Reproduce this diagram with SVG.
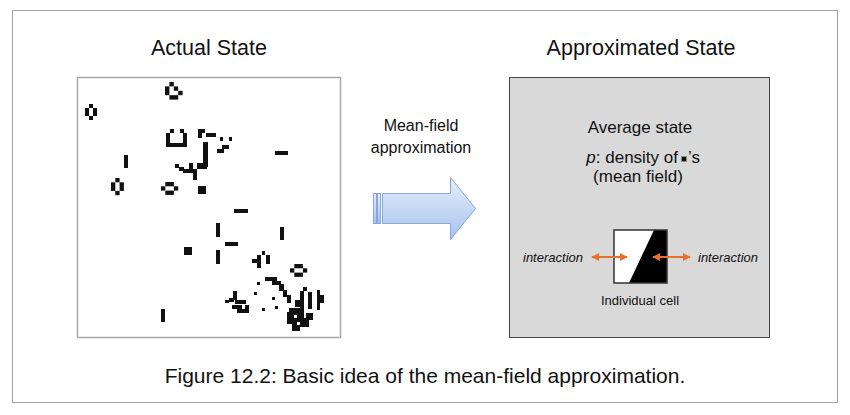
<svg xmlns="http://www.w3.org/2000/svg" width="850" height="415" viewBox="0 0 850 415">
<style>
text{font-family:"Liberation Sans",Arial,sans-serif;fill:#111}
.title{font-size:21.5px;text-anchor:middle}
.lbl{font-size:16px;text-anchor:middle}
.big{font-size:17px}
.it{font-size:13px;font-style:italic;text-anchor:middle}
.c rect{fill:#111}
.hole{fill:#fff}
</style>
<defs>
<linearGradient id="ag" x1="0" y1="0" x2="0" y2="1">
<stop offset="0" stop-color="#e6eefb"/>
<stop offset="1" stop-color="#a7c2ec"/>
</linearGradient>
<marker id="oh" viewBox="0 0 10 10" refX="9" refY="5" markerWidth="4" markerHeight="4" orient="auto-start-reverse">
<path d="M0,0 L10,5 L0,10 Z" fill="#e8702a"/>
</marker>
</defs>
<rect x="0" y="0" width="850" height="415" fill="#fff"/>
<rect x="12.5" y="10.5" width="825" height="392" fill="none" stroke="#a0a0a0" stroke-width="1"/>

<g id="actual-state">
<text class="title" x="209" y="55">Actual State</text>
<rect x="77.5" y="77.5" width="263" height="260" fill="#fff" stroke="#a8a8a8" stroke-width="1.5"/>
<g class="c">
<g transform="translate(165,82) scale(4.4)"><rect x="1" y="0" width="1" height="1"/><rect x="0" y="1" width="1" height="2"/><rect x="2" y="1" width="1" height="1"/><rect x="3" y="2" width="1" height="1"/><rect x="1" y="3" width="2" height="1"/></g>
<g transform="translate(85,104) scale(4)"><rect x="1" y="0" width="1" height="1"/><rect x="0" y="1" width="1" height="2"/><rect x="2" y="1" width="1" height="2"/><rect x="1" y="3" width="1" height="1"/></g>
<rect x="124" y="155" width="4" height="13"/>
<g transform="translate(111,178) scale(4.3)"><rect x="1" y="0" width="1" height="1"/><rect x="0" y="1" width="1" height="2"/><rect x="2" y="1" width="1" height="2"/><rect x="1" y="3" width="1" height="1"/></g>
<g transform="translate(161,182) scale(4.3)"><rect x="1" y="0" width="2" height="1"/><rect x="0" y="1" width="1" height="1"/><rect x="3" y="1" width="1" height="1"/><rect x="1" y="2" width="2" height="1"/></g>
<rect x="198" y="186" width="8" height="8"/>
<rect x="170" y="129" width="4" height="4"/><rect x="180" y="129" width="4" height="4"/>
<rect x="166" y="133" width="4" height="10"/><rect x="183" y="133" width="4" height="10"/>
<rect x="166" y="143" width="21" height="4"/>
<rect x="198" y="129" width="7" height="4"/><rect x="198" y="129" width="4" height="9"/>
<rect x="206" y="133" width="10" height="4"/>
<rect x="220" y="137" width="3" height="4"/><rect x="229" y="137" width="3" height="4"/>
<rect x="222" y="145" width="7" height="4"/><rect x="217" y="149" width="7" height="4"/>
<rect x="203" y="142" width="5" height="25"/>
<rect x="197" y="163" width="10" height="6"/>
<rect x="175" y="164" width="4" height="4"/>
<rect x="179" y="167" width="5" height="4"/>
<rect x="183" y="169" width="14" height="4"/>
<rect x="193" y="172" width="4" height="8"/>
<rect x="189" y="163" width="4" height="6"/>
<rect x="275" y="151" width="13" height="4"/>
<rect x="184" y="247" width="8" height="8"/>
<rect x="161" y="309" width="4" height="13"/>
<rect x="234" y="209" width="14" height="4"/>
<rect x="216" y="223" width="4" height="14"/>
<rect x="280" y="227" width="4" height="13"/>
<rect x="225" y="242" width="13" height="4"/>
<rect x="216" y="250" width="4" height="14"/>
<rect x="262" y="251" width="3" height="4"/>
<rect x="257" y="255" width="4" height="13"/>
<rect x="252" y="259" width="5" height="4"/>
<rect x="266" y="255" width="4" height="9"/>
<g transform="translate(290,264) scale(4.3)"><rect x="1" y="0" width="2" height="1"/><rect x="0" y="1" width="1" height="1"/><rect x="3" y="1" width="1" height="1"/><rect x="1" y="2" width="2" height="1"/></g>
<rect x="257" y="282" width="3" height="3"/>
<rect x="254" y="292" width="3" height="3"/>
<rect x="272" y="297" width="3" height="3"/>
<rect x="262" y="308" width="3" height="3"/>
<rect x="275" y="306" width="3" height="3"/>
<rect x="265" y="277" width="12" height="4"/>
<rect x="272" y="281" width="9" height="4"/>
<rect x="279" y="284" width="5" height="7"/>
<rect x="283" y="290" width="4" height="7"/>
<rect x="287" y="295" width="4" height="8"/>
<rect x="233" y="291" width="4" height="9"/>
<rect x="229" y="298" width="5" height="4"/>
<rect x="225" y="300" width="4" height="3"/>
<rect x="235" y="300" width="11" height="4"/>
<rect x="232" y="305" width="10" height="4"/>
<rect x="237" y="309" width="12" height="4"/>
<rect x="245" y="305" width="4" height="4"/>
<rect x="303" y="287" width="4" height="4"/>
<rect x="300" y="291" width="4" height="22"/>
<rect x="308" y="292" width="4" height="17"/>
<rect x="317" y="290" width="3" height="20"/>
<rect x="320" y="295" width="4" height="8"/>
<rect x="295" y="300" width="6" height="7"/>
<rect x="289" y="308" width="15" height="12"/>
<rect x="287" y="312" width="10" height="12"/>
<rect x="292" y="316" width="8" height="15"/>
<rect x="298" y="318" width="11" height="9"/>
<rect x="306" y="313" width="7" height="7"/>
</g>
<rect class="hole" x="294" y="315" width="3" height="3"/>
<rect class="hole" x="297" y="322" width="3" height="3"/>
</g>

<g id="mean-field-arrow">
<text class="lbl" x="421" y="131">Mean-field</text>
<text class="lbl" x="421" y="153">approximation</text>
<rect x="373.5" y="193.5" width="3" height="30" fill="url(#ag)" stroke="#86a8da" stroke-width="1"/>
<rect x="377.5" y="193.5" width="3" height="30" fill="url(#ag)" stroke="#86a8da" stroke-width="1"/>
<path d="M382.5,193.5 H450.5 V177.5 L475.5,208.5 L450.5,239.5 V223.5 H382.5 Z" fill="url(#ag)" stroke="#86a8da" stroke-width="1"/>
</g>

<g id="approximated-state">
<text class="title" x="641" y="55">Approximated State</text>
<rect x="509.5" y="77.5" width="260" height="260" fill="#d9d9d9" stroke="#444" stroke-width="1"/>
<text class="big" x="640" y="133" text-anchor="middle">Average state</text>
<text class="big" x="678" y="163" text-anchor="end"><tspan font-style="italic">p</tspan>: density of</text>
<rect x="681.5" y="156.5" width="5" height="5" fill="#111" stroke="#888" stroke-width="1"/>
<text class="big" x="688" y="163" text-anchor="start">’s</text>
<text class="big" x="638" y="182" text-anchor="middle">(mean field)</text>
</g>

<g id="individual-cell">
<rect x="614" y="230" width="53" height="53" fill="#fff"/>
<path d="M654,230 H667 V283 H629 Z" fill="#000"/>
<rect x="614" y="230" width="53" height="53" fill="none" stroke="#333" stroke-width="1.5"/>
<text x="640" y="305" font-size="13" text-anchor="middle">Individual cell</text>
</g>

<g id="interaction-left"><text class="it" x="553" y="262">interaction</text></g>
<g id="interaction-right"><text class="it" x="728" y="262">interaction</text></g>

<g id="connectors" stroke="#e8702a" stroke-width="2" fill="none">
<line x1="592" y1="257" x2="627" y2="257" marker-start="url(#oh)" marker-end="url(#oh)"/>
<line x1="653" y1="257" x2="690" y2="257" marker-start="url(#oh)" marker-end="url(#oh)"/>
</g>

<g id="caption">
<text x="425" y="383" font-size="21" text-anchor="middle">Figure 12.2: Basic idea of the mean-field approximation.</text>
</g>
</svg>
